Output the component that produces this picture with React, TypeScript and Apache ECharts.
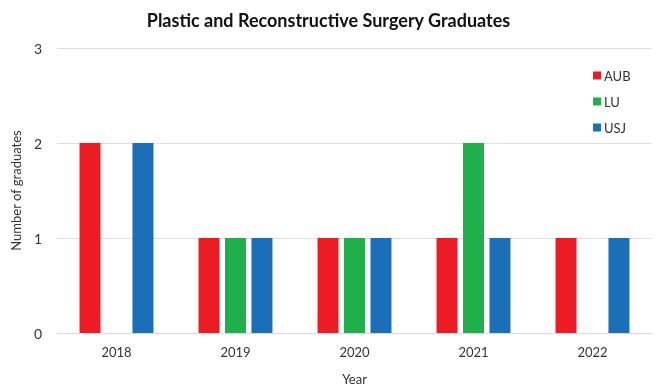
import React, { useEffect, useRef } from "react";
import * as echarts from "echarts";

const years = ["2018", "2019", "2020", "2021", "2022"];
const aub = [2, 1, 1, 1, 1];
const lu = [0, 1, 1, 2, 0];
const usj = [2, 1, 1, 1, 1];
const seriesNames = ["AUB", "LU", "USJ"];
const colors = ["#ED1C24", "#1FB04B", "#1A6FB8"];

const FONT = "Lato, 'Open Sans', sans-serif";

export default function App() {
  const ref = useRef<HTMLDivElement>(null);
  useEffect(() => {
    if (!ref.current) return;
    const chart = echarts.init(ref.current, undefined, { renderer: "svg" });
    const data = [aub, lu, usj];
    chart.setOption({
      animation: false,
      textStyle: { fontFamily: FONT },
      title: {
        text: "Plastic and Reconstructive Surgery Graduates",
        left: "center",
        top: 6,
        textStyle: { fontFamily: FONT, fontSize: 18, fontWeight: "bold", color: "#111" },
      },
      legend: {
        orient: "vertical",
        left: 588,
        top: 64,
        itemWidth: 8,
        itemHeight: 8,
        itemGap: 13,
        icon: "rect",
        textStyle: { fontFamily: FONT, fontSize: 13, color: "#333", padding: [0, 0, 0, -2] },
        data: seriesNames,
      },
      grid: { left: 57, right: 5, top: 48, bottom: 54 },
      xAxis: {
        type: "category",
        data: years,
        name: "Year",
        nameLocation: "middle",
        nameGap: 39,
        nameTextStyle: { fontFamily: FONT, fontSize: 13, color: "#333" },
        axisLine: { lineStyle: { color: "#d9d9d9" } },
        axisTick: { show: false },
        axisLabel: { fontFamily: FONT, fontSize: 13, color: "#333", margin: 12 },
      },
      yAxis: {
        type: "value",
        min: 0,
        max: 3,
        interval: 1,
        name: "Number of graduates",
        nameLocation: "middle",
        nameGap: 35,
        nameTextStyle: { fontFamily: FONT, fontSize: 13, color: "#333" },
        axisLine: { show: false },
        axisTick: { show: false },
        axisLabel: { fontFamily: FONT, fontSize: 14, color: "#333", margin: 15 },
        splitLine: { lineStyle: { color: "#e0e0e0" } },
      },
      series: seriesNames.map((name, i) => ({
        name,
        type: "bar",
        data: data[i],
        barWidth: 21,
        barGap: "26%",
        itemStyle: { color: colors[i] },
      })),
    });
    return () => chart.dispose();
  }, []);
  return (
    <div
      ref={ref}
      style={{ position: "fixed", left: 0, top: 0, width: 657, height: 390 }}
    />
  );
}
